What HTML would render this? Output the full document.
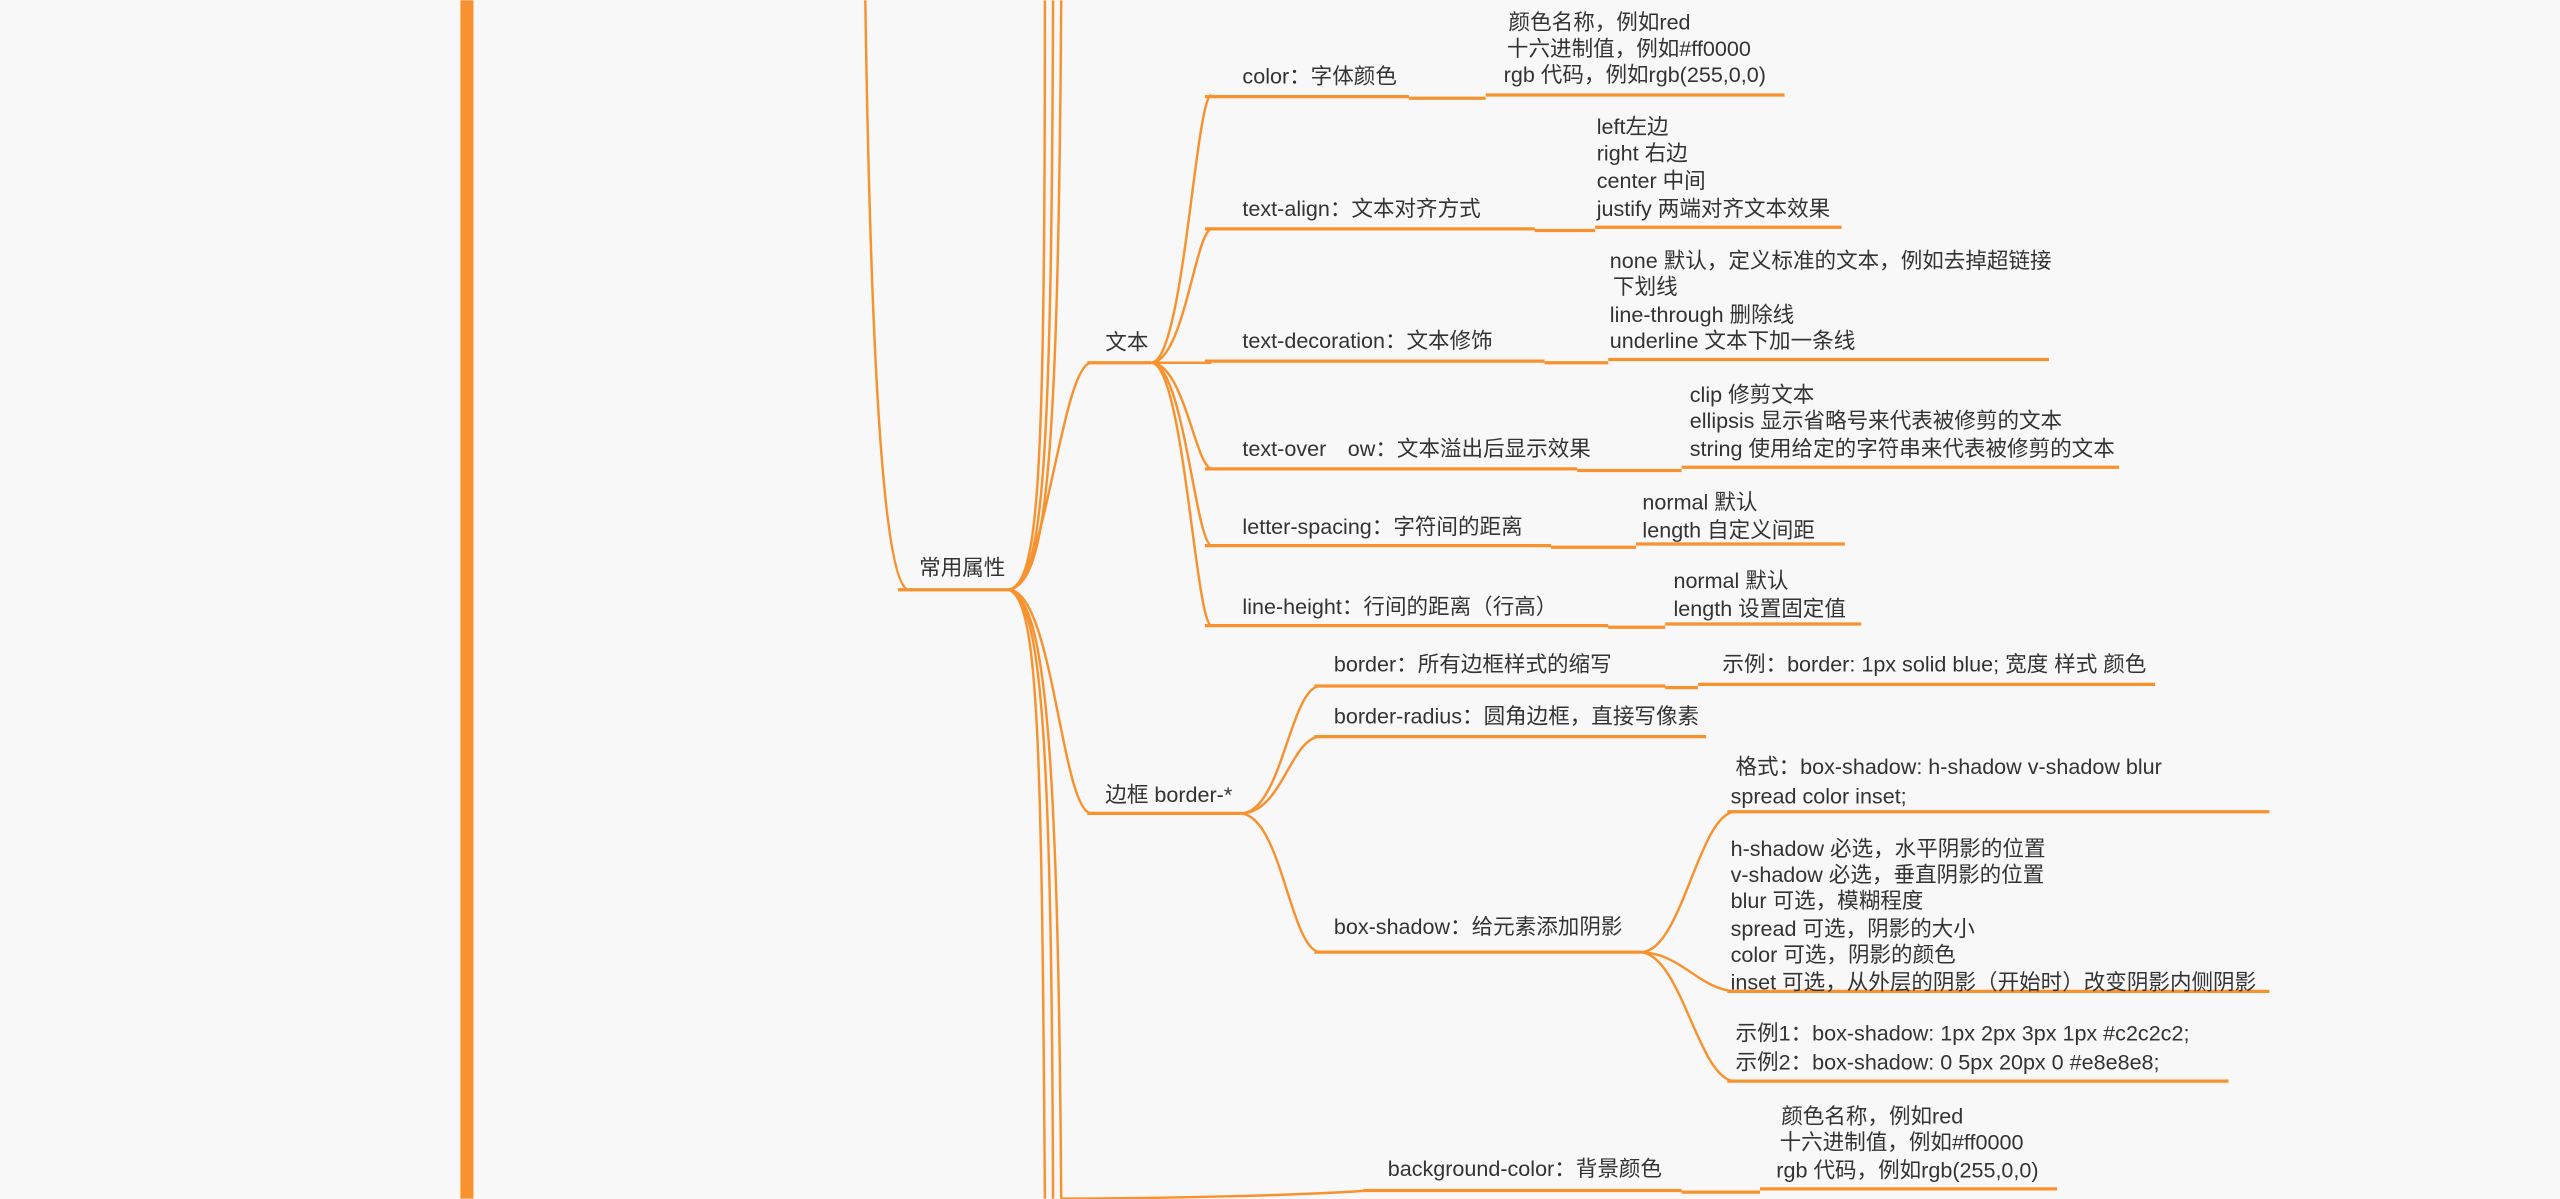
<!DOCTYPE html>
<html><head><meta charset="utf-8"><style>
html,body{margin:0;padding:0;background:#f8f8f9;overflow:hidden}
svg{display:block}
text{font-family:"Liberation Sans","Noto Sans CJK SC",sans-serif;font-size:13.2px;fill:#333}
.c{fill:none;stroke:#f7922f;stroke-width:1.5}
.u{fill:none;stroke:#f7922f;stroke-width:2}
</style></head><body>
<svg width="2560" height="1199" viewBox="0 0 1568 734" xmlns="http://www.w3.org/2000/svg">
<rect x="0" y="0" width="1568" height="734" fill="#f8f8f9"/>
<rect x="282" y="0" width="8" height="734" fill="#f7922f"/>
<path class="c" d="M530,0 C533,200 540,355 556,361"/>
<path class="c" d="M618,361 C636,356 640,300 640,0"/>
<path class="c" d="M618,361 C638,356 644,300 645,0"/>
<path class="c" d="M618,361 C640,356 648,300 650,0"/>
<path class="c" d="M618,361 C636,368 638,450 640,734"/>
<path class="c" d="M618,361 C638,368 644,450 645,734"/>
<path class="c" d="M618,361 C640,368 648,450 650,734"/>
<path class="u" d="M550,361 H618"/>
<text x="563" y="352">常用属性</text>
<path class="c" d="M618,361 C640,360 650,225 668,222"/>
<path class="u" d="M666,222 H705"/>
<text x="677" y="214">文本</text>
<g>
<path class="c" d="M705,222 C725,222 732,60 742,58"/>
<path class="c" d="M705,222 C725,222 732,142 742,140"/>
<path class="c" d="M705,222 H742"/>
<path class="c" d="M705,222 C725,222 732,285 742,287"/>
<path class="c" d="M705,222 C725,222 732,332 742,334"/>
<path class="c" d="M705,222 C725,222 732,381 742,383"/>
</g>
<path class="u" d="M738,59 H863 M863,60 H910 M910,58 H1093"/>
<text x="761" y="51">color：字体颜色</text>
<text x="924" y="18">颜色名称，例如red</text>
<text x="923" y="34">十六进制值，例如#ff0000</text>
<text x="921" y="50">rgb 代码，例如rgb(255,0,0)</text>
<path class="u" d="M738,140 H940 M940,141 H977 M977,139 H1128"/>
<text x="761" y="132">text-align：文本对齐方式</text>
<text x="978" y="82">left左边</text>
<text x="978" y="98">right 右边</text>
<text x="978" y="115">center 中间</text>
<text x="978" y="132">justify 两端对齐文本效果</text>
<path class="u" d="M738,221 H946 M946,222 H985 M985,220 H1255"/>
<text x="761" y="213">text-decoration：文本修饰</text>
<text x="986" y="164">none 默认，定义标准的文本，例如去掉超链接</text>
<text x="988" y="180">下划线</text>
<text x="986" y="197">line-through 删除线</text>
<text x="986" y="213">underline 文本下加一条线</text>
<path class="u" d="M738,287 H966 M966,288 H1030 M1030,286 H1298"/>
<text x="761" y="279">text-over　ow：文本溢出后显示效果</text>
<text x="1035" y="246">clip 修剪文本</text>
<text x="1035" y="262">ellipsis 显示省略号来代表被修剪的文本</text>
<text x="1035" y="279">string 使用给定的字符串来代表被修剪的文本</text>
<path class="u" d="M738,334 H950 M950,335 H1002 M1002,333 H1130"/>
<text x="761" y="327">letter-spacing：字符间的距离</text>
<text x="1006" y="312">normal 默认</text>
<text x="1006" y="329">length 自定义间距</text>
<path class="u" d="M738,383 H985 M985,384 H1020 M1020,382 H1140"/>
<text x="761" y="376">line-height：行间的距离（行高）</text>
<text x="1025" y="360">normal 默认</text>
<text x="1025" y="377">length 设置固定值</text>
<path class="c" d="M618,361 C645,362 650,495 668,498"/>
<path class="u" d="M666,498 H760"/>
<text x="677" y="491">边框 border-*</text>
<path class="c" d="M760,498 C785,498 790,422 808,420"/>
<path class="c" d="M760,498 C785,498 790,453 808,451"/>
<path class="c" d="M760,498 C785,500 790,580 808,583"/>
<path class="u" d="M805,420 H1020 M1020,421 H1040 M1040,419 H1320"/>
<text x="817" y="411">border：所有边框样式的缩写</text>
<text x="1055" y="411">示例：border: 1px solid blue; 宽度 样式 颜色</text>
<path class="u" d="M805,451 H1045"/>
<text x="817" y="443">border-radius：圆角边框，直接写像素</text>
<path class="u" d="M805,583 H1005"/>
<text x="817" y="572">box-shadow：给元素添加阴影</text>
<path class="c" d="M1005,583 C1030,583 1040,500 1062,497"/>
<path class="c" d="M1005,583 C1030,584 1040,605 1062,607"/>
<path class="c" d="M1005,583 C1030,585 1040,660 1062,662"/>
<path class="u" d="M1058,497 H1390"/>
<text x="1063" y="474">格式：box-shadow: h-shadow v-shadow blur</text>
<text x="1060" y="492">spread color inset;</text>
<path class="u" d="M1058,607 H1390"/>
<text x="1060" y="524">h-shadow  必选，水平阴影的位置</text>
<text x="1060" y="540">v-shadow  必选，垂直阴影的位置</text>
<text x="1060" y="556">blur  可选，模糊程度</text>
<text x="1060" y="573">spread  可选，阴影的大小</text>
<text x="1060" y="589">color  可选，阴影的颜色</text>
<text x="1060" y="606">inset  可选，从外层的阴影（开始时）改变阴影内侧阴影</text>
<path class="u" d="M1058,662 H1365"/>
<text x="1063" y="637">示例1：box-shadow: 1px 2px 3px 1px #c2c2c2;</text>
<text x="1063" y="655">示例2：box-shadow: 0 5px 20px 0 #e8e8e8;</text>
<path class="c" d="M650,734 C700,734 800,732 838,729"/>
<path class="u" d="M835,729 H1030 M1030,730 H1078 M1078,728 H1260"/>
<text x="850" y="720">background-color：背景颜色</text>
<text x="1091" y="688">颜色名称，例如red</text>
<text x="1090" y="704">十六进制值，例如#ff0000</text>
<text x="1088" y="721">rgb 代码，例如rgb(255,0,0)</text>
</svg>
</body></html>
